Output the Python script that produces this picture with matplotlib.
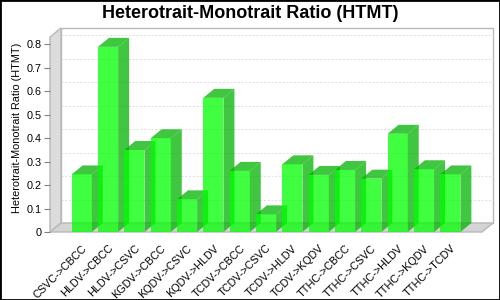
import matplotlib
matplotlib.use('Agg')
import matplotlib.pyplot as plt
from matplotlib.patches import Polygon, Rectangle
import numpy as np

categories = ["CSVC->CBCC", "HLDV->CBCC", "HLDV->CSVC", "KGDV->CBCC", "KQDV->CSVC",
              "KQDV->HLDV", "TCDV->CBCC", "TCDV->CSVC", "TCDV->HLDV", "TCDV->KQDV",
              "TTHC->CBCC", "TTHC->CSVC", "TTHC->HLDV", "TTHC->KQDV", "TTHC->TCDV"]
values = [0.245, 0.788, 0.349, 0.399, 0.139, 0.571, 0.260, 0.075, 0.288, 0.243,
          0.264, 0.227, 0.418, 0.267, 0.245]
yticks = [0, 0.1, 0.2, 0.3, 0.4, 0.5, 0.6, 0.7, 0.8]
ytick_labels = ["0", "0.1", "0.2", "0.3", "0.4", "0.5", "0.6", "0.7", "0.8"]
title = "Heterotrait-Monotrait Ratio (HTMT)"
ylabel = "Heterotrait-Monotrait Ratio (HTMT)"

plt.rcParams['font.family'] = ['Liberation Sans', 'DejaVu Sans']

fig = plt.figure(figsize=(5, 3), dpi=100)
ax = fig.add_axes([50 / 500, 68 / 300, 432 / 500, 195 / 300])
n = len(categories)
x = np.arange(n)
margin = 1.204
ax.set_xlim(-margin, n - 1 + margin)
ax.set_ylim(0, 0.83)
ax.patch.set_visible(False)
for s in ax.spines.values():
    s.set_visible(False)

# 3D depth offsets (pixels) converted to data units
DX, DY = 11, 9
p0 = ax.transData.transform((0, 0))
p1 = ax.transData.transform((1, 1))
ddx = DX / (p1[0] - p0[0])
ddy = DY / (p1[1] - p0[1])
xmin, xmax = ax.get_xlim()
ymin, ymax = ax.get_ylim()

wall_edge = '#b8b8b8'
# back wall
ax.add_patch(Rectangle((xmin + ddx, ymin + ddy), xmax - xmin, ymax - ymin,
                       facecolor='white', edgecolor=wall_edge, lw=1, clip_on=False, zorder=0))
# left wall
ax.add_patch(Polygon([(xmin, ymin), (xmin + ddx, ymin + ddy), (xmin + ddx, ymax + ddy), (xmin, ymax)],
                     closed=True, facecolor='#dcdcdc', edgecolor=wall_edge, lw=1, clip_on=False, zorder=0.5))
# floor
ax.add_patch(Polygon([(xmin, ymin), (xmax, ymin), (xmax + ddx, ymin + ddy), (xmin + ddx, ymin + ddy)],
                     closed=True, facecolor='#d4d4d4', edgecolor=wall_edge, lw=1, clip_on=False, zorder=0.5))
# gridlines on back wall
for t in yticks[1:]:
    ax.plot([xmin + ddx, xmax + ddx], [t + ddy, t + ddy], color='#dadada', lw=0.6,
            ls=(0, (2.5, 2)), clip_on=False, zorder=0.2)

w = 0.766
front_c = (0.0, 1.0, 0.0, 0.75)
dark_c = (0.0, 0.7, 0.0, 0.75)
for i, v in enumerate(values):
    x0, x1 = i - w / 2, i + w / 2
    z = 2 + i
    ax.add_patch(Polygon([(x1, 0), (x1 + ddx, ddy), (x1 + ddx, v + ddy), (x1, v)], closed=True,
                         facecolor=dark_c, edgecolor='none', clip_on=False, zorder=z))
    ax.add_patch(Polygon([(x0, v), (x1, v), (x1 + ddx, v + ddy), (x0 + ddx, v + ddy)], closed=True,
                         facecolor=dark_c, edgecolor='none', clip_on=False, zorder=z))
    ax.add_patch(Rectangle((x0, 0), w, v, facecolor=front_c, edgecolor='none', clip_on=False, zorder=z + 0.5))

ax.set_yticks(yticks)
ax.set_yticklabels(ytick_labels)
ax.tick_params(axis='y', length=4, color='#808080', labelsize=7.8, pad=2)
ax.set_xticks(x)
ax.set_xticklabels(categories, rotation=45, ha='right', rotation_mode='anchor')
ax.tick_params(axis='x', length=0, labelsize=7.8, pad=8)

fig.text(0.5, 1 - 14 / 300, title, ha='center', va='center', fontsize=13, fontweight='bold')
fig.text(17 / 500, 1 - 128 / 300, ylabel, ha='center', va='center', rotation=90, fontsize=7.8)

fig.patches.append(Rectangle((0, 0), 1, 1, transform=fig.transFigure, fill=False,
                             edgecolor='black', lw=2, zorder=10))

fig.savefig('out.png', dpi=100)
